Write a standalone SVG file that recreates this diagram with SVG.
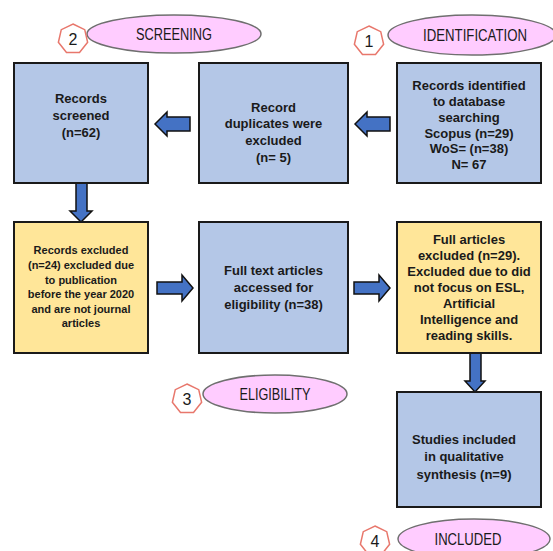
<svg xmlns="http://www.w3.org/2000/svg" width="553" height="551" viewBox="0 0 553 551">
<style>
.bx{stroke:#1a1a1a;stroke-width:2}
.blue{fill:#B4C7E7}
.yel{fill:#FFE699}
.t{font-family:"Liberation Sans",Arial,sans-serif;font-weight:bold;font-size:13px;fill:#1a1a1a;text-anchor:middle}
.ts{font-size:11px}
.ell{fill:#FFCCFF;stroke:#6f6f6f;stroke-width:1.5}
.lab{font-family:"Liberation Sans",Arial,sans-serif;font-size:16px;fill:#1a1a1a;text-anchor:middle}
.hep{fill:#fff;stroke:#E8776C;stroke-width:1.5}
.arr{fill:#4472C4;stroke:#111;stroke-width:1.5;stroke-linejoin:miter}
</style>
<defs>
<polygon id="hept" points="0,-15 11.73,-9.35 14.62,3.34 6.51,13.51 -6.51,13.51 -14.62,3.34 -11.73,-9.35"/>
</defs>
<rect width="553" height="551" fill="#fff"/>

<g id="label-screening">
<ellipse class="ell" cx="174" cy="34" rx="87" ry="19"/>
<text class="lab" x="174" y="39.5" textLength="76" lengthAdjust="spacingAndGlyphs">SCREENING</text>
<use href="#hept" class="hep" x="73" y="39"/>
<text class="lab" x="73" y="44.5">2</text>
</g>
<g id="label-identification">
<ellipse class="ell" cx="472" cy="35" rx="84" ry="20"/>
<text class="lab" x="475" y="40.5" textLength="104" lengthAdjust="spacingAndGlyphs">IDENTIFICATION</text>
<use href="#hept" class="hep" x="369" y="41"/>
<text class="lab" x="369" y="46.5">1</text>
</g>
<g id="label-eligibility">
<ellipse class="ell" cx="275" cy="394" rx="72" ry="19"/>
<text class="lab" x="275" y="399.5" textLength="71" lengthAdjust="spacingAndGlyphs">ELIGIBILITY</text>
<use href="#hept" class="hep" x="187" y="399"/>
<text class="lab" x="187" y="404.5">3</text>
</g>
<g id="label-included">
<ellipse class="ell" cx="474" cy="539" rx="76" ry="20"/>
<text class="lab" x="468" y="544.5" textLength="67" lengthAdjust="spacingAndGlyphs">INCLUDED</text>
<use href="#hept" class="hep" x="375" y="541"/>
<text class="lab" x="375" y="546.5">4</text>
</g>

<g id="connectors">
<polygon class="arr" points="155,124 167,112 167,117 190,117 190,131 167,131 167,136"/>
<polygon class="arr" points="355,124 367,112 367,117 390,117 390,131 367,131 367,136"/>
<polygon class="arr" points="76,183 87,183 87,211 92,211 81,222 70,211 76,211"/>
<polygon class="arr" points="157,282 182,282 182,275 193,288 182,301 182,294 157,294"/>
<polygon class="arr" points="354,282 379,282 379,275 390,288 379,301 379,294 354,294"/>
<polygon class="arr" points="470,353 481,353 481,381 485,381 475,392 465,381 470,381"/>
</g>

<g id="records-identified">
<rect class="bx blue" x="397" y="63" width="144" height="120"/>
<text class="t" x="469" y="89.5">Records identified</text>
<text class="t" x="469" y="105.5">to database</text>
<text class="t" x="469" y="121.5">searching</text>
<text class="t" x="469" y="137.5">Scopus (n=29)</text>
<text class="t" x="469" y="153">WoS= (n=38)</text>
<text class="t" x="469" y="168.5">N= 67</text>
</g>
<g id="duplicates-excluded">
<rect class="bx blue" x="199" y="63" width="149" height="120"/>
<text class="t" x="273.5" y="111.5">Record</text>
<text class="t" x="273.5" y="128">duplicates were</text>
<text class="t" x="273.5" y="144.5">excluded</text>
<text class="t" x="273.5" y="161.5">(n= 5)</text>
</g>
<g id="records-screened">
<rect class="bx blue" x="14" y="63" width="134" height="120"/>
<text class="t" x="81" y="102.5">Records</text>
<text class="t" x="81" y="119.5">screened</text>
<text class="t" x="81" y="136.5">(n=62)</text>
</g>
<g id="records-excluded">
<rect class="bx yel" x="14" y="222" width="134" height="131"/>
<text class="t ts" x="81" y="254">Records excluded</text>
<text class="t ts" x="81" y="269">(n=24) excluded due</text>
<text class="t ts" x="81" y="284">to publication</text>
<text class="t ts" x="81" y="298">before the year 2020</text>
<text class="t ts" x="81" y="313">and are not journal</text>
<text class="t ts" x="81" y="327">articles</text>
</g>
<g id="full-text">
<rect class="bx blue" x="199" y="222" width="149" height="131"/>
<text class="t" x="273.5" y="274.5">Full text articles</text>
<text class="t" x="273.5" y="291.5">accessed for</text>
<text class="t" x="273.5" y="309">eligibility (n=38)</text>
</g>
<g id="full-articles-excluded">
<rect class="bx yel" x="397" y="222" width="144" height="131"/>
<text class="t" x="469" y="243.5">Full articles</text>
<text class="t" x="469" y="259.5">excluded (n=29).</text>
<text class="t" x="469" y="275.5">Excluded due to did</text>
<text class="t" x="469" y="291.5">not focus on ESL,</text>
<text class="t" x="469" y="307.5">Artificial</text>
<text class="t" x="469" y="323.5">Intelligence and</text>
<text class="t" x="469" y="339.5">reading skills.</text>
</g>
<g id="studies-included">
<rect class="bx blue" x="397" y="392" width="144" height="115"/>
<text class="t" x="464" y="443.5">Studies included</text>
<text class="t" x="464" y="460.5">in qualitative</text>
<text class="t" x="464" y="478.5">synthesis (n=9)</text>
</g>
</svg>
